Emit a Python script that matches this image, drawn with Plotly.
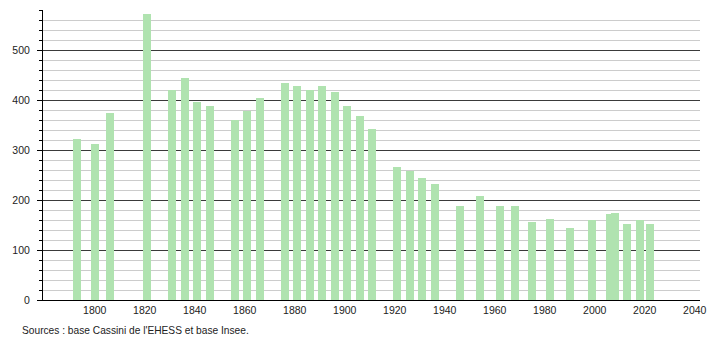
import plotly.graph_objects as go

years = [1793, 1800, 1806, 1821, 1831, 1836, 1841, 1846, 1856, 1861, 1866,
         1876, 1881, 1886, 1891, 1896, 1901, 1906, 1911, 1921, 1926, 1931,
         1936, 1946, 1954, 1962, 1968, 1975, 1982, 1990, 1999, 2006, 2008,
         2013, 2018, 2022]
population = [322, 312, 374, 572, 420, 444, 396, 388, 360, 378, 404,
              434, 428, 420, 428, 416, 388, 368, 342, 266, 258, 244,
              232, 188, 208, 188, 188, 156, 162, 144, 160, 172, 174,
              152, 160, 152]
x_ticks = [1800, 1820, 1840, 1860, 1880, 1900, 1920, 1940, 1960, 1980, 2000, 2020, 2040]
y_ticks = [0, 100, 200, 300, 400, 500]
source_text = "Sources : base Cassini de l'EHESS et base Insee."

fig = go.Figure()
fig.add_trace(go.Bar(
    x=years, y=population, width=3.2,
    marker=dict(color="#b0e3b0", line=dict(width=0)),
    hoverinfo="x+y",
))

fig.update_layout(
    width=710, height=340,
    margin=dict(l=43, r=10, t=10, b=40, autoexpand=False),
    plot_bgcolor="white", paper_bgcolor="white",
    showlegend=False,
    bargap=0,
    font=dict(family="Liberation Sans, Arial, sans-serif", size=10.5, color="#222"),
    xaxis=dict(
        range=[1779.3, 2042.1],
        tickmode="array", tickvals=x_ticks,
        ticktext=[str(v) for v in x_ticks],
        showgrid=False, zeroline=False, automargin=False,
        showline=True, linecolor="black", linewidth=1,
        ticks="", ticklen=0,
        tickfont=dict(size=10.5, color="#222"),
    ),
    yaxis=dict(
        range=[0, 580],
        tickmode="array", tickvals=y_ticks,
        ticktext=[str(v) for v in y_ticks],
        showgrid=True, gridcolor="#3a3a3a", gridwidth=1,
        zeroline=False, automargin=False,
        showline=True, linecolor="black", linewidth=1,
        ticks="outside", ticklen=5, tickcolor="black", tickwidth=1,
        ticklabelstandoff=5,
        tickfont=dict(size=10.5, color="#222"),
        minor=dict(dtick=20, tick0=0, showgrid=True, gridcolor="#cccccc",
                   gridwidth=1, ticks="outside", ticklen=3, tickcolor="black"),
    ),
)

fig.add_annotation(
    text=source_text, xref="paper", yref="paper",
    x=(20 - 43) / 657, y=-30 / 290, xanchor="left", yanchor="middle",
    showarrow=False, font=dict(size=10.2, color="#222"),
)

fig.write_html("out.html")
